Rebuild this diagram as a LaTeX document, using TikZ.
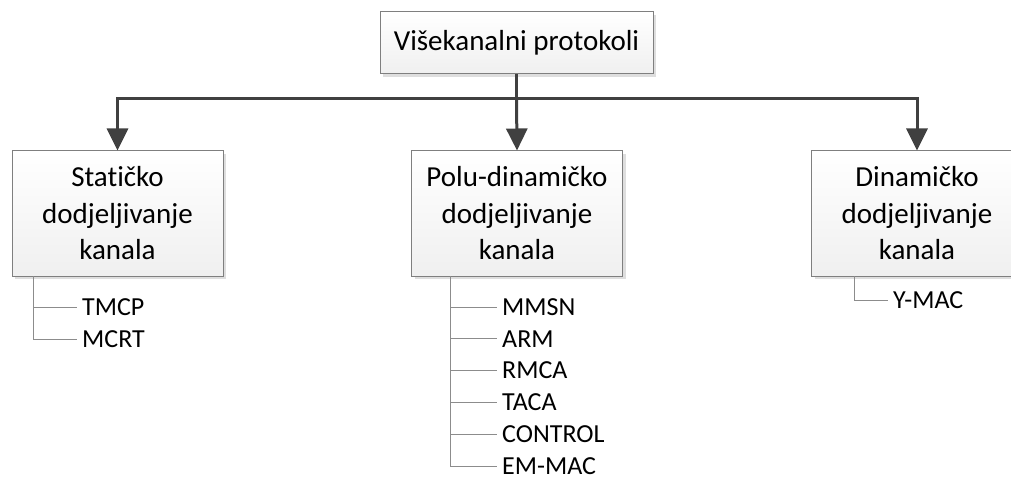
\documentclass[tikz,border=0pt]{standalone}
\usepackage{fontspec}
\setmainfont{Carlito}[Ligatures=NoCommon]
\usetikzlibrary{arrows.meta,shadows}
\definecolor{conn}{HTML}{404040}
\definecolor{bord}{HTML}{7F7F7F}
\definecolor{lst}{HTML}{8C8C8C}
\begin{document}
\begin{tikzpicture}[x=1pt,y=-1pt,
  box/.style={draw=bord, line width=1pt, top color=white, bottom color=black!6,
    minimum width=211pt, minimum height=125pt, align=center, inner sep=0pt,
    font=\fontsize{29}{36.5}\selectfont,
    drop shadow={shadow xshift=3pt, shadow yshift=-3pt, opacity=1, fill=black!13}},
  topbox/.style={box, minimum width=273pt, minimum height=62pt},
  item/.style={anchor=west, inner xsep=5pt, inner ysep=0pt, font=\fontsize{26}{30}\selectfont},
  mainconn/.style={draw=conn, line width=3pt, -{Triangle[width=21pt,length=22pt]}},
  listline/.style={draw=lst, line width=1pt},
]
\useasboundingbox (0,0) rectangle (1011,478);
\clip (0,0) rectangle (1011,478);
\node[topbox] (top) at (516.5,43) {Višekanalni protokoli};
\node[box] (left) at (117.5,213.5) {Statičko\\dodjeljivanje\\kanala};
\node[box] (mid) at (517,213.5) {Polu-dinamičko\\dodjeljivanje\\kanala};
\node[box] (right) at (917,213.5) {Dinamičko\\dodjeljivanje\\kanala};

\coordinate (hub) at (516.5,98.5);
\draw[mainconn] (top.south) -- (hub) -| (left.north);
\draw[mainconn] (hub) -- (mid.north);
\draw[mainconn] (hub) -| (right.north);

% list items
\node[item] (t1) at (77,307) {TMCP};
\node[item] (t2) at (77,339) {MCRT};
\node[item] (m1) at (497,307) {MMSN};
\node[item] (m2) at (497,338.8) {ARM};
\node[item] (m3) at (497,370.6) {RMCA};
\node[item] (m4) at (497,402.4) {TACA};
\node[item] (m5) at (497,434.2) {CONTROL};
\node[item] (m6) at (497,466) {EM-MAC};
\node[item] (r1) at (888,300.5) {Y-MAC};

\coordinate (lroot) at (33,276);
\coordinate (mroot) at (450,276);
\coordinate (rroot) at (854,276);

\foreach \t in {t1,t2} \draw[listline] (lroot) |- (\t.west);
\foreach \t in {m1,m2,m3,m4,m5,m6} \draw[listline] (mroot) |- (\t.west);
\draw[listline] (rroot) |- (r1.west);
\end{tikzpicture}
\end{document}
